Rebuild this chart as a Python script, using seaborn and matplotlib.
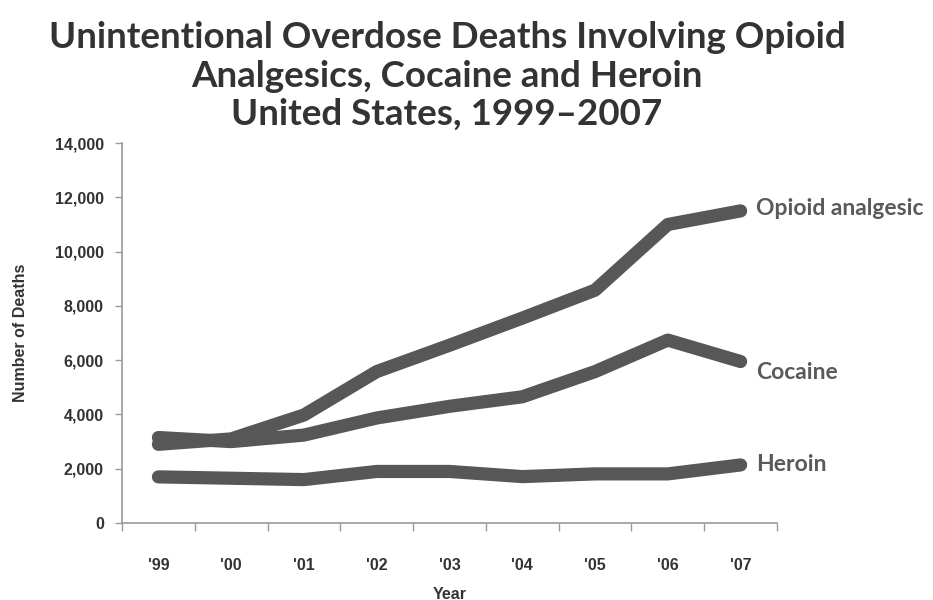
import matplotlib
matplotlib.use("Agg")
import matplotlib.pyplot as plt
import seaborn as sns
import pandas as pd
import numpy as np

years = ["'99", "'00", "'01", "'02", "'03", "'04", "'05", "'06", "'07"]
opioid = [2900, 3100, 3980, 5580, 6550, 7550, 8580, 11000, 11500]
cocaine = [3150, 3000, 3240, 3870, 4300, 4650, 5580, 6740, 5950]
heroin = [1700, 1650, 1600, 1900, 1900, 1710, 1810, 1810, 2140]
series_names = ["Opioid analgesic", "Cocaine", "Heroin"]
y_ticks = [0, 2000, 4000, 6000, 8000, 10000, 12000, 14000]

rows = []
for name, vals in zip(series_names, [opioid, cocaine, heroin]):
    for i, v in enumerate(vals):
        rows.append({"idx": i, "deaths": v, "series": name})
df = pd.DataFrame(rows)

sns.set_theme(style="white")
plt.rcParams["font.family"] = ["Lato", "DejaVu Sans"]

line_color = "#575757"
fig = plt.figure(figsize=(9.33, 6.0), dpi=100)
ax = fig.add_axes([0.1308, 0.1283, 0.702, 0.6333])

sns.lineplot(data=df, x="idx", y="deaths", hue="series",
             palette={n: line_color for n in series_names},
             linewidth=9.5, solid_capstyle="round", solid_joinstyle="round",
             legend=False, ax=ax)

ax.set_xlim(-0.5, 8.5)
ax.set_ylim(0, 14000)

# Tick marks between categories, labels centred on each category
ax.set_xticks(np.arange(-0.5, 9.0, 1.0))
ax.set_xticklabels([])
ax.set_xticks(np.arange(len(years)), minor=True)
ax.set_xticklabels(years, minor=True, fontfamily="Liberation Sans",
                   fontweight="bold", fontsize=11.5, color="#333333")
ax.tick_params(axis="x", which="major", direction="out", length=6,
               width=1, color="#9a9a9a", bottom=True)
ax.tick_params(axis="x", which="minor", length=0, pad=25)

ax.set_yticks(y_ticks)
ax.set_yticklabels([f"{v:,}" for v in y_ticks], fontfamily="Liberation Sans",
                   fontweight="bold", fontsize=11.5, color="#333333")
ax.tick_params(axis="y", direction="out", length=5, width=1,
               color="#9a9a9a", left=True, pad=8)

for side in ["top", "right"]:
    ax.spines[side].set_visible(False)
for side in ["left", "bottom"]:
    ax.spines[side].set_color("#9a9a9a")
    ax.spines[side].set_linewidth(1.2)

ax.set_xlabel("Year", fontfamily="Liberation Sans", fontweight="bold",
              fontsize=11.5, color="#333333", labelpad=10)
ax.set_ylabel("Number of Deaths", fontfamily="Liberation Sans",
              fontweight="bold", fontsize=11.5, color="#333333", labelpad=19)

label_offsets = {"Opioid analgesic": 2, "Cocaine": -8, "Heroin": 0}
for name, vals in zip(series_names, [opioid, cocaine, heroin]):
    ax.annotate(name, xy=(len(vals) - 1, vals[-1]),
                xytext=(11, label_offsets[name]), textcoords="offset points",
                va="center", ha="left", fontsize=16.5, fontweight="bold",
                color="#5a5a5a", annotation_clip=False)

fig.text(0.479, 0.873,
         "Unintentional Overdose Deaths Involving Opioid\n"
         "Analgesics, Cocaine and Heroin\n"
         "United States, 1999\u20132007",
         ha="center", va="center", fontsize=26.5, fontweight="bold",
         color="#333333", linespacing=1.2)

fig.savefig("out.png", dpi=100, facecolor="white")
